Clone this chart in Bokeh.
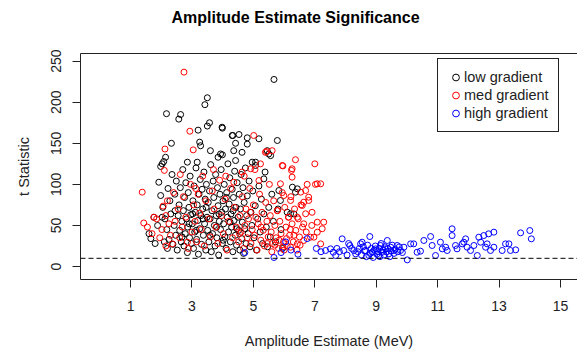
from bokeh.plotting import figure
from bokeh.models import Range1d, FixedTicker, LinearAxis, Span, Legend, LegendItem, Title
from bokeh.embed import file_html
from bokeh.resources import INLINE

title_text = "Amplitude Estimate Significance"
x_label = "Amplitude Estimate (MeV)"
y_label = "t Statistic"
x_ticks = [1, 3, 5, 7, 9, 11, 13, 15]
y_ticks = [0, 50, 100, 150, 200, 250]
threshold = 10
series_names = ["low gradient", "med gradient", "high gradient"]
series_colors = ["#000000", "#FF0000", "#0000FF"]

low_gradient = [
    (5.67, 227.7), (3.50, 205.4), (3.42, 197.0), (2.17, 186.0), (2.63, 185.0), (2.57, 179.4),
    (3.57, 175.0), (3.50, 171.0), (3.20, 166.0), (3.99, 168.4), (4.33, 159.5), (4.53, 160.7),
    (4.80, 156.7), (5.78, 153.4), (3.25, 151.4), (3.28, 147.0), (2.33, 150.0), (3.60, 141.0),
    (4.42, 150.0), (4.80, 149.0), (3.99, 136.0), (2.14, 133.0), (2.08, 127.8), (1.98, 121.8),
    (2.85, 127.0), (3.17, 127.0), (3.85, 133.0), (4.42, 129.0), (5.07, 127.0), (5.56, 135.0),
    (1.92, 102.6), (1.98, 86.4), (6.27, 96.6), (6.32, 64.0), (5.34, 106.7), (3.98, 169.6),
    (4.31, 159.5), (5.18, 155.5), (5.45, 141.0), (5.50, 137.0), (3.93, 137.0), (4.36, 141.0),
    (4.63, 139.0), (4.96, 127.0), (5.07, 123.0), (5.83, 92.5), (5.88, 80.4), (6.10, 66.1),
    (6.21, 64.2), (6.43, 94.6), (6.37, 90.5), (2.03, 125.0),
    (1.60, 40), (1.66, 34), (1.80, 28), (1.76, 60), (1.88, 50), (2.03, 60),
    (2.05, 72), (2.12, 58), (2.18, 45), (2.22, 95), (2.25, 33), (2.28, 80), (2.31, 64),
    (2.35, 112), (2.38, 27), (2.42, 50), (2.44, 88), (2.47, 38), (2.49, 104), (2.10, 30), (2.20, 22),
    (2.52, 20), (2.55, 62), (2.58, 75), (2.60, 44), (2.62, 96), (2.65, 30), (2.67, 55), (2.70, 118),
    (2.72, 68), (2.74, 25), (2.76, 84), (2.78, 40), (2.80, 102), (2.82, 58), (2.85, 17), (2.86, 48),
    (2.88, 90), (2.90, 72), (2.92, 35), (2.94, 110), (2.96, 63), (2.98, 28),
    (3.01, 52), (3.03, 80), (3.05, 22), (3.07, 98), (3.09, 42), (3.11, 66), (3.13, 120), (3.15, 33),
    (3.17, 75), (3.19, 56), (3.21, 15), (3.23, 88), (3.25, 46), (3.27, 106), (3.29, 62), (3.31, 27),
    (3.33, 94), (3.35, 70), (3.37, 38), (3.39, 115), (3.41, 52), (3.43, 82), (3.45, 20), (3.47, 100),
    (3.49, 60),
    (3.51, 44), (3.53, 78), (3.55, 30), (3.57, 92), (3.59, 58), (3.61, 124), (3.63, 18), (3.65, 68),
    (3.67, 40), (3.69, 104), (3.71, 84), (3.73, 50), (3.75, 25), (3.77, 112), (3.79, 62), (3.81, 35),
    (3.83, 96), (3.85, 74), (3.87, 14), (3.89, 55), (3.91, 88), (3.93, 45), (3.95, 118), (3.97, 66),
    (3.99, 28),
    (4.01, 80), (4.03, 52), (4.05, 100), (4.07, 36), (4.09, 70), (4.11, 22), (4.13, 90), (4.15, 60),
    (4.17, 125), (4.19, 42), (4.21, 76), (4.23, 108), (4.25, 30), (4.27, 64), (4.29, 48), (4.31, 94),
    (4.33, 18), (4.35, 84), (4.37, 56), (4.39, 116), (4.41, 38), (4.43, 72), (4.45, 26), (4.47, 102),
    (4.50, 60), (4.52, 44), (4.54, 88), (4.56, 20), (4.58, 70), (4.60, 112), (4.62, 34), (4.64, 54),
    (4.66, 96), (4.68, 16), (4.70, 78), (4.72, 46), (4.74, 120), (4.76, 28), (4.78, 62), (4.80, 86),
    (4.83, 40), (4.86, 104), (4.89, 24), (4.92, 66), (4.95, 50), (4.98, 92),
    (5.02, 35), (5.06, 74), (5.10, 20), (5.14, 58), (5.18, 98), (5.22, 42), (5.26, 82), (5.30, 28),
    (5.34, 64), (5.38, 115), (5.42, 48), (5.46, 24), (5.50, 72), (5.55, 36), (5.60, 88),
    (5.65, 55), (5.72, 30), (5.80, 70), (5.90, 45), (5.95, 22),
    (2.45, 68), (2.68, 36), (2.91, 52), (3.14, 44), (3.36, 58), (3.58, 38), (3.80, 48), (4.02, 32),
    (4.24, 54), (4.46, 46), (3.02, 64), (3.46, 72), (3.88, 64), (4.12, 84), (4.34, 68),
]

med_gradient = [
    (2.74, 236.6), (2.93, 164.7), (5.01, 159.5), (2.12, 143.0), (3.04, 142.0), (5.42, 140.0),
    (6.37, 130.0), (7.00, 125.0), (5.96, 122.5), (6.24, 117.0), (2.10, 117.0), (1.38, 90.5),
    (7.02, 100.0), (6.75, 100.0), (7.19, 100.7), (6.26, 108.8), (1.43, 53.0), (1.76, 60.0),
    (2.06, 73.5), (2.25, 52.0), (2.36, 27.6), (2.85, 29.6), (7.19, 27.6), (6.97, 35.7),
    (7.29, 54.0), (7.24, 46.0), (7.08, 100.7), (5.39, 139.0), (5.61, 141.0), (5.94, 123.0),
    (5.23, 125.0), (4.91, 119.0), (4.63, 115.0), (4.36, 102.6), (5.18, 104.7), (5.99, 86.4),
    (6.21, 80.4), (6.54, 90.5), (6.64, 78.3), (6.80, 80.4), (6.70, 64.2), (6.43, 60.0),
    (6.15, 60.0), (6.64, 52.0), (5.78, 68.2), (6.26, 119.0), (6.70, 92.5), (6.80, 84.4),
    (6.59, 74.3), (6.91, 66.0), (7.08, 54.0), (7.08, 41.8), (6.86, 35.7), (6.64, 31.7),
    (6.43, 27.6), (6.21, 23.5), (5.88, 100.7),
    (1.55, 48), (1.70, 40), (1.85, 58), (1.95, 35), (2.02, 45), (2.15, 62), (2.20, 80),
    (2.30, 38), (2.40, 90), (2.45, 55), (2.15, 25),
    (2.55, 70), (2.60, 35), (2.68, 48), (2.72, 85), (2.80, 60), (2.88, 22), (2.95, 100), (3.00, 42),
    (3.05, 75), (3.10, 55), (3.15, 30), (3.20, 88), (3.25, 65), (3.30, 45), (3.35, 110), (3.40, 25),
    (3.45, 80), (2.62, 112), (3.12, 95),
    (3.55, 58), (3.60, 36), (3.66, 92), (3.72, 70), (3.78, 48), (3.84, 28), (3.90, 105), (3.96, 62),
    (4.02, 40), (4.08, 82), (4.14, 20), (4.20, 55), (4.26, 95), (4.32, 35), (4.38, 72), (4.44, 48),
    (3.70, 118), (4.10, 110),
    (4.52, 30), (4.56, 62), (4.60, 42), (4.64, 85), (4.68, 22), (4.72, 50), (4.76, 70), (4.80, 35),
    (4.84, 58), (4.88, 95), (4.92, 28), (4.96, 45), (5.00, 75), (5.04, 38), (5.08, 60), (5.12, 20),
    (5.16, 52), (5.20, 88), (5.24, 32), (5.28, 66), (5.32, 44), (5.36, 25), (5.40, 78), (5.44, 55),
    (5.48, 36), (5.52, 100), (4.70, 110), (5.05, 118), (4.55, 40), (4.90, 66), (5.25, 48), (5.45, 28),
    (5.55, 62), (5.58, 42), (5.62, 28), (5.66, 80), (5.70, 50), (5.74, 35), (5.78, 68), (5.82, 22),
    (5.86, 55), (5.90, 40), (5.94, 90), (5.98, 30), (6.02, 72), (6.06, 48), (6.10, 25), (6.14, 60),
    (6.18, 38), (6.22, 85), (6.26, 52), (6.30, 30), (6.34, 70), (6.38, 44), (6.42, 20), (6.46, 58),
    (6.50, 36), (6.55, 75), (6.60, 48), (5.60, 18), (6.00, 20), (6.20, 45),
    (5.70, 26), (5.84, 32), (5.96, 24), (6.08, 34), (6.32, 38), (6.52, 26), (6.72, 42), (6.90, 50),
]

high_gradient = [
    (4.72, 17), (5.67, 11), (5.90, 17), (6.05, 30), (6.22, 20), (6.75, 34), (6.45, 15), (7.05, 22),
    (7.20, 18),
    (7.35, 19.5), (7.51, 21.5), (7.60, 17.4), (7.68, 13.4), (7.89, 33.7), (7.94, 19.5), (8.14, 25.6),
    (8.27, 19.5), (8.33, 15.4), (8.49, 27.6), (8.54, 29.6), (8.65, 19.5), (8.76, 13.4), (8.79, 36.5),
    (8.87, 17.4), (8.98, 21.5), (9.08, 13.4), (9.14, 25.6), (9.19, 17.4), (9.30, 21.5), (9.36, 31.7),
    (9.41, 15.4), (9.47, 23.5), (9.57, 19.5), (9.68, 25.6), (9.79, 19.5), (9.90, 23.5), (10.01, 8.1),
    (10.12, 27.6), (10.22, 27.6), (10.33, 17.4), (10.44, 18.7), (10.55, 31.7), (10.77, 36.5),
    (10.82, 25.6), (10.93, 13.4), (11.09, 29.6), (11.15, 21.5), (11.26, 23.5), (11.31, 19.5),
    (11.47, 45.9), (11.47, 37.7), (11.58, 25.6), (11.63, 21.5), (11.80, 27.6), (11.85, 29.6),
    (11.91, 33.7), (11.96, 23.5), (12.07, 19.5), (12.18, 25.6), (12.29, 13.4), (12.34, 35.7),
    (12.40, 29.6), (12.50, 37.7), (12.56, 23.5), (12.61, 27.6), (12.66, 39.8), (12.72, 19.5),
    (12.83, 41.8), (12.83, 23.5), (13.10, 19.5), (13.21, 27.6), (13.32, 27.6), (13.37, 19.5),
    (13.54, 20.3), (13.70, 41.0), (14.00, 43.8), (14.05, 33.7),
    (8.40, 18), (8.45, 22), (8.52, 14), (8.58, 24), (8.62, 19), (8.68, 12), (8.72, 26), (8.80, 16),
    (8.84, 22), (8.90, 11), (8.93, 20), (8.97, 25), (9.02, 15), (9.05, 18), (9.10, 22), (9.12, 12),
    (9.16, 28), (9.22, 20), (9.25, 14), (9.28, 24), (9.33, 18), (9.38, 22), (9.44, 12), (9.48, 19),
    (9.52, 26), (9.58, 16), (9.62, 21), (9.70, 18), (9.75, 24), (9.85, 17), (7.80, 18), (7.72, 22),
    (8.05, 14), (8.20, 22), (8.10, 28),
]

FONT = "Liberation Sans"

p = figure(width=577, height=355, output_backend="svg", toolbar_location=None,
           x_range=Range1d(-0.63, 15.553), y_range=Range1d(-15.8, 259.3),
           x_axis_type=None, y_axis_type=None,
           min_border_left=80, min_border_top=53, min_border_bottom=76, min_border_right=0)
p.title_location = None
p.outline_line_color = None
p.background_fill_color = "white"
p.border_fill_color = "white"

def style_axis(ax):
    ax.axis_line_color = "#222222"
    ax.axis_line_width = 1
    ax.major_tick_line_color = "#222222"
    ax.major_tick_in = 0
    ax.major_tick_out = 8
    ax.minor_tick_in = 0
    ax.minor_tick_out = 0
    ax.major_label_text_font = FONT
    ax.major_label_text_font_size = "14px"
    ax.major_label_text_color = "#222222"
    ax.axis_label_text_font = FONT
    ax.axis_label_text_font_size = "14.5px"
    ax.axis_label_text_font_style = "normal"
    ax.axis_label_text_color = "#222222"

xa = LinearAxis(ticker=FixedTicker(ticks=x_ticks), axis_label=x_label)
style_axis(xa)
xa.major_label_standoff = 13
xa.axis_label_standoff = 19
p.add_layout(xa, "below")

ya = LinearAxis(ticker=FixedTicker(ticks=y_ticks), axis_label=y_label)
style_axis(ya)
ya.major_label_orientation = "vertical"
ya.major_label_standoff = 11
ya.axis_label_standoff = 17
p.add_layout(ya, "left")

# top border of the box; invisible ticks reserve the gap between box and title
top = LinearAxis(ticker=FixedTicker(ticks=x_ticks))
top.axis_line_color = "#222222"
top.major_tick_line_color = None
top.major_tick_out = 26
top.major_tick_in = 0
top.minor_tick_out = 0
top.minor_tick_in = 0
top.major_label_standoff = 0
top.major_label_text_font_size = "1px"
top.major_label_overrides = {t: "" for t in x_ticks}
p.add_layout(top, "above")

title = Title(text=title_text, text_font=FONT, text_font_size="16px", text_font_style="bold",
              text_color="black", align="left", offset=91, standoff=4)
p.add_layout(title, "above")

renderers = []
for data, color in zip([low_gradient, med_gradient, high_gradient], series_colors):
    xs = [d[0] for d in data]
    ys = [d[1] for d in data]
    r = p.scatter(xs, ys, marker="circle", size=6, fill_color=None,
                  line_color=color, line_width=1)
    renderers.append(r)

p.add_layout(Span(location=threshold, dimension="width", line_color="black",
                  line_width=1, line_dash="5 3"))

legend = Legend(items=[LegendItem(label=n, renderers=[r]) for n, r in zip(series_names, renderers)],
                location=(357, 147))
legend.border_line_color = "#222222"
legend.border_line_width = 1
legend.border_line_alpha = 1
legend.background_fill_color = "white"
legend.background_fill_alpha = 1
legend.padding = 9
legend.spacing = 0
legend.margin = 0
legend.glyph_width = 17
legend.glyph_height = 18
legend.label_height = 18
legend.label_standoff = 0
legend.label_text_font = FONT
legend.label_text_font_size = "14.5px"
legend.label_text_color = "#222222"
p.add_layout(legend)

open("out.html", "w").write(file_html(p, INLINE))
